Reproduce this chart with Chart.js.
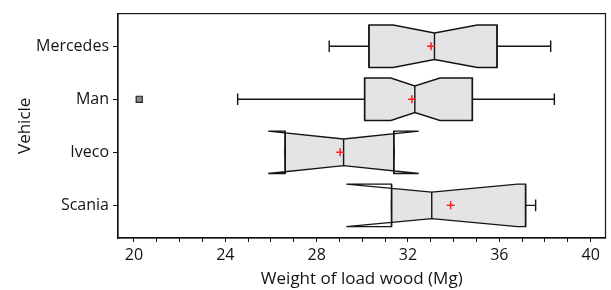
<!DOCTYPE html>
<html>
<head>
<meta charset="utf-8">
<script src="https://cdn.jsdelivr.net/npm/chart.js@4.4.1/dist/chart.umd.min.js"></script>
<style>
html,body{margin:0;padding:0;background:#fff}
#wrap{width:611px;height:290px}
</style>
</head>
<body>
<div id="wrap"><canvas id="c"></canvas></div>
<script>
// vehicles top to bottom
const vehicles=['Mercedes','Man','Iveco','Scania']
const whiskerLow=[28.55,24.54,26.62,31.28]
const q1=[30.29,30.10,26.62,31.28]
const median=[33.16,32.30,29.18,33.04]
const q3=[35.90,34.82,31.38,37.15]
const whiskerHigh=[38.25,38.41,31.38,37.59]
const notchLow=[31.35,31.25,25.88,29.30]
const notchHigh=[35.04,33.40,32.47,36.80]
const means=[33.01,32.17,29.03,33.87]
const outliers=[[],[20.23],[],[]]
const xTickLabels=[20,24,28,32,36,40]
const xMinorTicks=[20,21,22,23,24,25,26,27,28,29,30,31,32,33,34,35,36,37,38,39,40]

const FONT='"Open Sans", sans-serif'
const INK='#141414'

const meanPts=means.map((m,i)=>({x:m,y:i}))
const outPts=[]
outliers.forEach((arr,i)=>arr.forEach(v=>outPts.push({x:v,y:i})))

const boxPlugin={
id:'boxes',
beforeDatasetsDraw(chart){
const ctx=chart.ctx,xs=chart.scales.x,ys=chart.scales.y
ctx.save()
ctx.lineWidth=1.4
ctx.strokeStyle=INK
for(let i=0;i<vehicles.length;i++){
const yc=ys.getPixelForValue(i)
const top=ys.getPixelForValue(i-0.4),bot=ys.getPixelForValue(i+0.4)
const nTop=ys.getPixelForValue(i-0.25),nBot=ys.getPixelForValue(i+0.25)
const cTop=ys.getPixelForValue(i-0.11),cBot=ys.getPixelForValue(i+0.11)
const pQ1=xs.getPixelForValue(q1[i]),pQ3=xs.getPixelForValue(q3[i])
const pM=xs.getPixelForValue(median[i])
const pNL=xs.getPixelForValue(notchLow[i]),pNH=xs.getPixelForValue(notchHigh[i])
const pWL=xs.getPixelForValue(whiskerLow[i]),pWH=xs.getPixelForValue(whiskerHigh[i])
// whiskers
ctx.beginPath()
ctx.moveTo(pWL,yc);ctx.lineTo(pQ1,yc)
ctx.moveTo(pQ3,yc);ctx.lineTo(pWH,yc)
ctx.moveTo(pWL,cTop);ctx.lineTo(pWL,cBot)
ctx.moveTo(pWH,cTop);ctx.lineTo(pWH,cBot)
ctx.stroke()
// notched outline
const path=new Path2D()
path.moveTo(pQ1,top);path.lineTo(pNL,top);path.lineTo(pM,nTop);path.lineTo(pNH,top);path.lineTo(pQ3,top)
path.lineTo(pQ3,bot);path.lineTo(pNH,bot);path.lineTo(pM,nBot);path.lineTo(pNL,bot);path.lineTo(pQ1,bot);path.closePath()
ctx.save()
ctx.beginPath();ctx.rect(pQ1,top-2,pQ3-pQ1,bot-top+4);ctx.clip()
ctx.fillStyle='#e4e4e6'
ctx.fill(path)
ctx.restore()
ctx.stroke(path)
ctx.beginPath()
ctx.moveTo(pQ1,top);ctx.lineTo(pQ1,bot)
ctx.moveTo(pQ3,top);ctx.lineTo(pQ3,bot)
ctx.moveTo(pM,nTop);ctx.lineTo(pM,nBot)
ctx.stroke()
}
ctx.restore()
},
afterDraw(chart){
const a=chart.chartArea,ctx=chart.ctx
ctx.save()
ctx.strokeStyle=INK;ctx.lineWidth=1.2
ctx.strokeRect(a.left,a.top,a.right-a.left,a.bottom-a.top)
ctx.restore()
}
}

new Chart(document.getElementById('c'),{
type:'scatter',
data:{datasets:[
{label:'Mean',data:meanPts,pointStyle:'cross',radius:4,borderColor:'#ff2020',borderWidth:1.5,backgroundColor:'#ff2020'},
{label:'Outlier',data:outPts,pointStyle:'rect',radius:4.3,borderColor:'#222',borderWidth:1.2,backgroundColor:'#8c8c8c'}
]},
options:{
responsive:true,maintainAspectRatio:false,animation:false,
layout:{padding:{left:0,right:4,top:11,bottom:0}},
plugins:{legend:{display:false},tooltip:{enabled:false}},
scales:{
x:{type:'linear',min:19.3,max:40.65,
afterBuildTicks:s=>{s.ticks=xMinorTicks.map(v=>({value:v}))},
afterFit:s=>{s.height=52},
ticks:{autoSkip:false,maxRotation:0,padding:4,color:INK,font:{family:FONT,size:16},
callback:v=>xTickLabels.includes(v)?String(v):''},
grid:{drawOnChartArea:false,tickLength:4,color:INK,tickColor:INK},
border:{display:true,color:INK,width:1.2},
title:{display:true,text:'Weight of load wood (Mg)',color:INK,font:{family:FONT,size:17},padding:{top:0,bottom:1}}
},
y:{type:'linear',reverse:true,min:-0.615,max:3.615,
afterBuildTicks:s=>{s.ticks=vehicles.map((v,i)=>({value:i}))},
afterFit:s=>{s.width=118},
ticks:{autoSkip:false,padding:4,color:INK,font:{family:FONT,size:16},callback:v=>vehicles[v]},
grid:{drawOnChartArea:false,tickLength:5,color:INK,tickColor:INK},
border:{display:true,color:INK,width:1.2},
title:{display:true,text:'Vehicle',color:INK,font:{family:FONT,size:17},padding:{top:15,bottom:0}}
}
}
},
plugins:[boxPlugin]
})
</script>
</body>
</html>
